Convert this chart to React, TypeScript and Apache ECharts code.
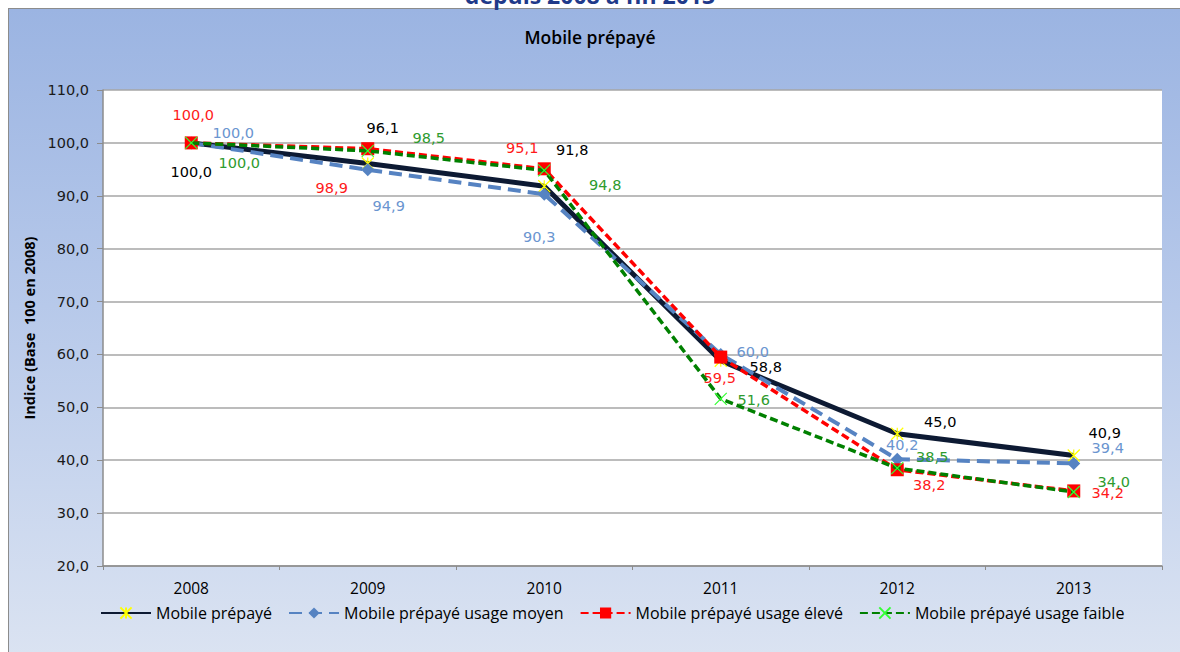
import React, { useEffect, useRef } from "react";
import * as echarts from "echarts";

const years = ["2008", "2009", "2010", "2011", "2012", "2013"];
const seriesNames = [
  "Mobile prépayé",
  "Mobile prépayé usage moyen",
  "Mobile prépayé usage élevé",
  "Mobile prépayé usage faible",
];
const prepaye = [100.0, 96.1, 91.8, 58.8, 45.0, 40.9];
const moyen = [100.0, 94.9, 90.3, 60.0, 40.2, 39.4];
const eleve = [100.0, 98.9, 95.1, 59.5, 38.2, 34.2];
const faible = [100.0, 98.5, 94.8, 51.6, 38.5, 34.0];

const yTicks = { min: 20, max: 110, interval: 10 };

// label offsets (pixels, relative to the point)
const offBlack = [[0, 29], [15, -36], [28, -36], [45, 6], [43, -12], [31, -22]];
const offBlue = [[42, -10], [21, 36], [-5, 43], [32, -2], [5, -14], [34, -15]];
const offRed = [[2, -28], [-36, 39], [-22, -21], [-1, 21], [32, 15], [34, 2]];
const offGreen = [[48, 20], [61, -13], [61, 15], [33, 1], [35, -11], [40, -10]];

const fmt = (v: number) => v.toFixed(1).replace(".", ",");

const X_PATH = "path://M0,0L10,10M10,0L0,10";
const STAR_PATH = "path://M5,0L5,10M0,0L10,10M10,0L0,10";

function mkData(vals: number[], offs: number[][], color: string) {
  return vals.map((v, i) => ({
    value: v,
    label: {
      show: true,
      position: "inside",
      offset: offs[i],
      color,
      fontSize: 14.5,
      fontFamily: "DejaVu Sans",
      formatter: () => fmt(v),
    },
  }));
}

export default function App() {
  const ref = useRef<HTMLDivElement>(null);
  useEffect(() => {
    document.body.style.margin = "0";
    const chart = echarts.init(ref.current!, undefined, { renderer: "svg" });
    const option: any = {
      animation: false,
      title: {
        text: "Mobile prépayé",
        left: "center",
        top: 23,
        textStyle: { fontFamily: "Open Sans", fontWeight: 600, fontSize: 17.5, color: "#000" },
      },
      graphic: [
        {
          type: "text",
          left: "center",
          top: -17,
          style: {
            text: "depuis 2008 à fin 2013",
            font: "bold 23px 'Open Sans'",
            fill: "#1F3A8A",
          },
        },
      ],
      grid: {
        left: 103,
        top: 90,
        right: 18,
        bottom: 86,
        show: true,
        backgroundColor: "#ffffff",
        borderWidth: 0,
      },
      legend: {
        left: 100,
        top: 605,
        padding: 0,
        itemWidth: 50,
        itemHeight: 14,
        itemGap: 16,
        textStyle: { fontFamily: "Open Sans", fontSize: 16, color: "#000" },
        data: seriesNames,
      },
      xAxis: {
        type: "category",
        data: years,
        boundaryGap: true,
        axisLine: { lineStyle: { color: "#8C8C8C", width: 1.5 } },
        axisTick: { show: true, length: 4, lineStyle: { color: "#8C8C8C" } },
        axisLabel: { fontFamily: "Open Sans", fontSize: 15.5, color: "#000", margin: 14 },
      },
      yAxis: {
        type: "value",
        min: yTicks.min,
        max: yTicks.max,
        interval: yTicks.interval,
        name: "Indice (Base  100 en 2008)",
        nameLocation: "middle",
        nameGap: 66,
        nameRotate: 90,
        nameTextStyle: { fontFamily: "Open Sans", fontWeight: "bold", fontSize: 14.5, color: "#000" },
        axisLine: { show: true, lineStyle: { color: "#8C8C8C", width: 1.5 } },
        axisTick: { show: true, length: 6, lineStyle: { color: "#8C8C8C" } },
        axisLabel: {
          fontFamily: "DejaVu Sans",
          fontSize: 14.5,
          color: "#1a1a1a",
          margin: 14,
          formatter: (v: number) => fmt(v),
        },
        splitLine: { lineStyle: { color: "#A6A6A6", width: 1.5 } },
      },
      series: [
        {
          name: seriesNames[0],
          type: "line",
          data: mkData(prepaye, offBlack, "#000"),
          symbol: STAR_PATH,
          symbolSize: 12,
          lineStyle: { color: "#0D1A33", width: 5 },
          itemStyle: { color: "#FFFF00", borderColor: "#FFFF00", borderWidth: 1.2 },
          z: 2,
        },
        {
          name: seriesNames[1],
          type: "line",
          data: mkData(moyen, offBlue, "#6A95D0"),
          symbol: "diamond",
          symbolSize: 13,
          lineStyle: { color: "#5683C2", width: 4, type: [13, 7] },
          itemStyle: { color: "#5683C2" },
          z: 3,
        },
        {
          name: seriesNames[2],
          type: "line",
          data: mkData(eleve, offRed, "#FF1A1A"),
          symbol: "rect",
          symbolSize: 13,
          lineStyle: { color: "#FF0000", width: 3.5, type: [8, 4] },
          itemStyle: { color: "#FF0000" },
          z: 4,
        },
        {
          name: seriesNames[3],
          type: "line",
          data: mkData(faible, offGreen, "#2E9B2E"),
          symbol: X_PATH,
          symbolSize: 12,
          lineStyle: { color: "#008000", width: 3.5, type: [8, 4] },
          itemStyle: { color: "#33FF33", borderColor: "#33FF33", borderWidth: 1.2 },
          z: 5,
        },
      ],
    };
    chart.setOption(option);
    return () => chart.dispose();
  }, []);

  return (
    <div style={{ position: "relative", width: 1180, height: 652, background: "#fff", overflow: "hidden" }}>
      <div
        style={{
          position: "absolute",
          left: 8,
          top: 8,
          width: 1180,
          height: 660,
          border: "1.5px solid #8C8C8C",
          background: "linear-gradient(to bottom, #9BB4E2 0%, #B7C9EA 45%, #DCE4F2 100%)",
        }}
      />
      <div ref={ref} style={{ position: "absolute", left: 0, top: 0, width: 1180, height: 652 }} />
    </div>
  );
}
